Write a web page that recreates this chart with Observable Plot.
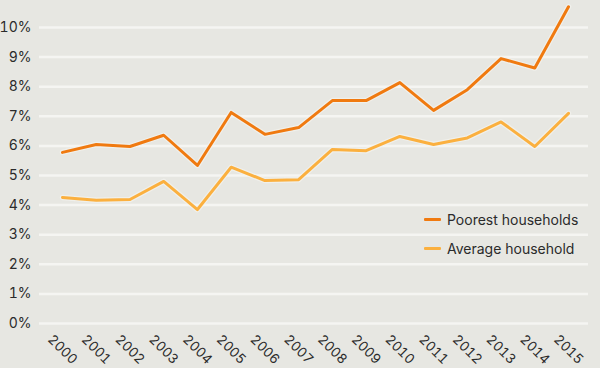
<!DOCTYPE html>
<html>
<head>
<meta charset="utf-8">
<script src="https://cdn.jsdelivr.net/npm/d3@7"></script>
<script src="https://cdn.jsdelivr.net/npm/@observablehq/plot@0.6"></script>
<style>
  html, body { margin: 0; padding: 0; background: #e7e7e2; }
  #wrap { position: relative; width: 600px; height: 368px; overflow: hidden; font-family: Inter, "Noto Sans", sans-serif; }
  #legend { position: absolute; left: 424px; top: 205px; font-size: 14px; color: #2b2b2b; }
  .row { display: flex; align-items: center; height: 29px; }
  .sw { width: 17px; height: 3px; margin-right: 6px; border-radius: 1px; }
</style>
</head>
<body>
<div id="wrap"><div id="legend"></div></div>
<script>
const years = [2000, 2001, 2002, 2003, 2004, 2005, 2006, 2007, 2008, 2009, 2010, 2011, 2012, 2013, 2014, 2015];
const poorest = [5.78, 6.05, 5.98, 6.36, 5.34, 7.13, 6.39, 6.62, 7.53, 7.53, 8.14, 7.2, 7.9, 8.95, 8.63, 10.7];
const average = [4.26, 4.16, 4.19, 4.8, 3.85, 5.28, 4.83, 4.86, 5.88, 5.84, 6.32, 6.05, 6.27, 6.81, 5.98, 7.1];
const seriesNames = ["Poorest households", "Average household"];
const seriesColors = ["#f07a10", "#fbb03f"];
const yTicks = [0, 1, 2, 3, 4, 5, 6, 7, 8, 9, 10];

const rows = [];
years.forEach((yr, i) => {
  rows.push({year: yr, value: poorest[i], series: seriesNames[0]});
  rows.push({year: yr, value: average[i], series: seriesNames[1]});
});

const chart = Plot.plot({
  width: 600,
  height: 368,
  marginTop: 27,
  marginBottom: 45,
  marginLeft: 39,
  marginRight: 12,
  style: {background: "#e7e7e2", fontFamily: "Inter, 'Noto Sans', sans-serif", fontSize: "14px", color: "#2b2b2b", overflow: "visible"},
  x: {domain: [2000, 2015], insetLeft: 23, insetRight: 20, axis: null},
  y: {domain: [0, 10], axis: null},
  color: {domain: seriesNames, range: seriesColors},
  marks: [
    Plot.ruleY(yTicks, {stroke: "#f5f5f2", strokeWidth: 2.5}),
    Plot.axisY(yTicks, {label: null, tickSize: 0, tickPadding: 8, tickFormat: d => d + "%", fill: "#2b2b2b", fontSize: 14}),
    Plot.axisX(years, {label: null, tickSize: 0, tickPadding: 0, tickRotate: 45, textAnchor: "middle", lineAnchor: "middle", dy: 26, tickFormat: d => String(d), fill: "#2b2b2b", fontSize: 13.5}),
    Plot.line(rows, {x: "year", y: "value", z: "series", stroke: "#f4f4f0", strokeWidth: 5.5, strokeOpacity: 0.7}),
    Plot.line(rows, {x: "year", y: "value", z: "series", stroke: "series", strokeWidth: 3})
  ]
});

const wrap = document.getElementById("wrap");
wrap.insertBefore(chart, wrap.firstChild);

const legend = document.getElementById("legend");
seriesNames.forEach((name, i) => {
  const row = document.createElement("div");
  row.className = "row";
  const sw = document.createElement("span");
  sw.className = "sw";
  sw.style.background = seriesColors[i];
  const t = document.createElement("span");
  t.textContent = name;
  row.appendChild(sw);
  row.appendChild(t);
  legend.appendChild(row);
});
</script>
</body>
</html>
